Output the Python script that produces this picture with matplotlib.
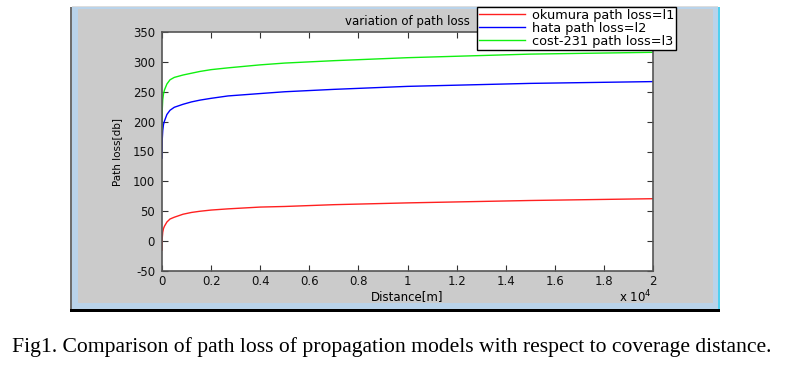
import numpy as np
import matplotlib
matplotlib.use("Agg")
from matplotlib import pyplot as plt
from matplotlib.patches import Rectangle

# distance [m] and path loss [dB]
distance = [1, 10, 30, 60, 100, 200, 326, 500, 855, 1200, 1548, 2000, 2690,
            4000, 5000, 7000, 10000, 15000, 20000]
okumura = [-15, 5, 15, 21, 25, 32, 37, 40, 45, 48, 50, 52, 54,
           57, 58, 61, 64, 68, 71]
hata = [139, 170, 185, 195, 201, 212, 219, 224, 229, 233, 236, 239, 243,
        247, 250, 254, 259, 264, 267]
cost231 = [186, 220, 237, 246, 253, 263, 270, 274, 278, 281, 284, 287, 290,
           295, 298, 302, 307, 313, 316]

xticks = [0, 2000, 4000, 6000, 8000, 10000, 12000, 14000, 16000, 18000, 20000]
xticklabels = ["0", "0.2", "0.4", "0.6", "0.8", "1", "1.2", "1.4", "1.6", "1.8", "2"]
yticks = [-50, 0, 50, 100, 150, 200, 250, 300, 350]

W, H = 785, 365
fig = plt.figure(figsize=(W / 100, H / 100), dpi=100)
fig.patch.set_facecolor("white")
plt.rcParams["font.family"] = ["DejaVu Sans"]
plt.rcParams["axes.unicode_minus"] = False


def px(x, y, w, h, **kw):
    # rectangle in pixel coords (top-left origin), drawn behind the axes
    fig.add_artist(Rectangle((x / W, 1 - (y + h) / H), w / W, h / H,
                             transform=fig.transFigure, zorder=-5, **kw))


# matlab window look
px(70, 7, 650, 302, facecolor="#b9d3ea", edgecolor="none")
px(78, 9, 635, 294, facecolor="#cbcbcb", edgecolor="none")
px(70, 7, 2, 302, facecolor="#6e6e6e", edgecolor="none")
px(718, 7, 2, 303, facecolor="#4fd0f0", edgecolor="none")
px(70, 309, 650, 2.5, facecolor="black", edgecolor="none")
px(72, 6, 646, 1, facecolor="#dddddd", edgecolor="none")

ax = fig.add_axes([162 / W, 1 - 271 / H, 491 / W, 239 / H])
ax.set_facecolor("white")

ax.plot(distance, okumura, color="#ff2020", lw=1.0, label="okumura path loss=l1")
ax.plot(distance, hata, color="#0000ff", lw=1.0, label="hata path loss=l2")
ax.plot(distance, cost231, color="#10f010", lw=1.0, label="cost-231 path loss=l3")

ax.set_xlim(0, 20000)
ax.set_ylim(-50, 350)
ax.set_xticks(xticks)
ax.set_xticklabels(xticklabels)
ax.set_yticks(yticks)
ax.tick_params(direction="in", length=4, width=0.8, colors="#333333",
               labelsize=8.5, top=True, right=True)
ax.tick_params(axis="x", pad=3)
ax.tick_params(axis="y", pad=5)
for lab in ax.get_xticklabels() + ax.get_yticklabels():
    lab.set_color("#111111")
for sp in ax.spines.values():
    sp.set_color("#555555")
    sp.set_linewidth(1.2)

ax.set_xlabel("Distance[m]", fontsize=8.5, labelpad=1)
ax.set_ylabel("Path loss[db]", fontsize=7.5, labelpad=8)
ax.set_title("variation of path loss", fontsize=8.5, pad=5)
fig.text(635 / W, 1 - 297 / H, r"x 10$^4$", fontsize=8.5, ha="center", va="center")

leg = ax.legend(loc="upper left", bbox_to_anchor=((477 - 162) / 491, 1 + (32 - 7) / 239),
                fontsize=9.3, frameon=True, fancybox=False, shadow=False,
                borderpad=0.15, labelspacing=0.0, handlelength=3.6,
                handletextpad=0.5, borderaxespad=0)
leg.get_frame().set_edgecolor("black")
leg.get_frame().set_linewidth(1.0)
leg.get_frame().set_alpha(1)

fig.text(392 / W, 1 - 347 / H,
         "Fig1. Comparison of path loss of propagation models with respect to coverage distance.",
         fontsize=15.6, family="Liberation Serif", ha="center", va="center")

fig.savefig("out.png", dpi=100)
